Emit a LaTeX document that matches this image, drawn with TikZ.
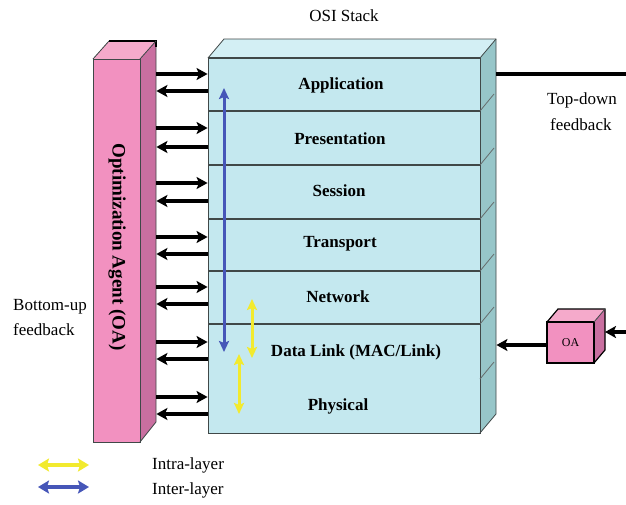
\documentclass[tikz,border=0pt]{standalone}
\usepackage{fontspec}
\setmainfont{Liberation Serif}
\usetikzlibrary{arrows.meta}
\definecolor{pinkF}{HTML}{F291C0}
\definecolor{pinkS}{HTML}{C96FA0}
\definecolor{pinkT}{HTML}{F5AACB}
\definecolor{cyanF}{HTML}{C4E8EF}
\definecolor{cyanT}{HTML}{D3EFF4}
\definecolor{cyanS}{HTML}{97C6C9}
\definecolor{edge}{HTML}{404848}
\definecolor{blueA}{HTML}{4656B8}
\definecolor{yellowA}{HTML}{F2EA2E}
\begin{document}
\begin{tikzpicture}[x=1pt,y=-1pt,
  lbl/.style={font=\fontsize{17}{20}\selectfont, inner sep=0pt},
  layerlbl/.style={font=\bfseries\fontsize{17}{20}\selectfont, inner sep=0pt},
  fb/.style={line width=3.4pt, -{Stealth[length=11pt,width=12pt,inset=2.5pt]}},
  inter/.style={line width=3pt, blueA, {Stealth[length=11pt,width=10pt,inset=2pt]}-{Stealth[length=11pt,width=10pt,inset=2pt]}},
  intra/.style={line width=3pt, yellowA, {Stealth[length=11pt,width=10pt,inset=2pt]}-{Stealth[length=11pt,width=10pt,inset=2pt]}},
  legarrow/.style={line width=4.5pt, {Stealth[length=11pt,width=13pt,inset=2pt]}-{Stealth[length=11pt,width=13pt,inset=2pt]}},
  sep/.style={line width=1.3pt, edge},
  notch/.style={line width=0.8pt, edge!80},
]
\useasboundingbox (0,0) rectangle (626,504);

% ---------- Optimization agent column ----------
\fill[pinkT] (93,59) -- (109,41) -- (156,41) -- (140,59) -- cycle;
\fill[pinkS] (140,59) -- (156,41) -- (156,422) -- (140,442) -- cycle;
\node[fill=pinkF, draw=edge, line width=0.8pt, minimum width=47pt, minimum height=383pt, inner sep=0pt] (agent) at (116.5,250.5) {};
\draw[edge, line width=0.8pt] (93,59) -- (109,41);
\draw[black, line width=1.8pt] (109,41) -- (156,41) -- (156,47);
\draw[edge, line width=0.8pt] (140,59) -- (156,41) (156,47) -- (156,422) -- (140,442);
\node[rotate=-90, font=\bfseries\fontsize{19}{22}\selectfont, inner sep=0pt] (agentlbl) at (117,247) {Optimization Agent (OA)};

% ---------- OSI stack ----------
\fill[cyanT] (208,58) -- (224,39) -- (496,39) -- (480,58) -- cycle;
\fill[cyanS] (480,58) -- (496,39) -- (496,414) -- (480,433) -- cycle;
\node[fill=cyanF, draw=edge, line width=0.9pt, minimum width=272pt, minimum height=375pt, inner sep=0pt] (stack) at (344,245.5) {};
\draw[edge, line width=0.8pt] (208,58) -- (224,39) -- (496,39) -- (496,414) -- (480,433);
\draw[edge, line width=0.8pt] (480,58) -- (496,39);
\draw[sep] (stack.north west) -- (stack.north east);
\foreach \yy in {111,165,219,271,324} {
  \draw[sep] (208,\yy) -- (480,\yy);
}
\foreach \yy in {111,165,219,271,324,379} {
  \draw[notch] (480,\yy) -- (494,\yy-17);
}
\path ([xshift=16pt]stack.east) coordinate (sside);
\path ([xshift=16pt]agent.east) coordinate (aside);

\node[lbl] (osi) at (344,16) {OSI Stack};

\node[layerlbl] (app)  at (341,85)  {Application};
\node[layerlbl] (pres) at (340,139) {Presentation};
\node[layerlbl] (sess) at (339,191) {Session};
\node[layerlbl] (trans) at (340,244) {Transport};
\node[layerlbl] (net)  at (338,297) {Network};
\node[layerlbl] (dl)   at (356,352) {Data Link (MAC/Link)};
\node[layerlbl] (phy)  at (338,406) {Physical};

% ---------- feedback arrows between agent and stack ----------
\foreach \ya/\yb in {74/91,128/147,183/201,237/254,287/304,342/359,397/414} {
  \draw[fb] (aside |- 0,\ya) -- (stack.west |- 0,\ya);
  \draw[fb] (stack.west |- 0,\yb) -- (aside |- 0,\yb);
}

% ---------- inter/intra layer arrows ----------
\coordinate (bt) at (224,88);
\coordinate (bb) at (224,352);
\draw[inter] (bt) -- (bb);
\coordinate (y1t) at (252,299);
\coordinate (y1b) at (252,358);
\draw[intra] (y1t) -- (y1b);
\coordinate (y2t) at (239,354);
\coordinate (y2b) at (239,414);
\draw[intra] (y2t) -- (y2b);

% ---------- top-down feedback ----------
\coordinate (tdend) at (626,74);
\draw[black, line width=3.4pt] (sside |- tdend) -- (tdend);
\node[lbl, anchor=west] (td1) at (547,100) {Top-down};
\node[lbl, anchor=west] (td2) at (550,125) {feedback};

% ---------- small OA cube ----------
\fill[pinkT] (547,322) -- (558,309) -- (605,309) -- (594,322) -- cycle;
\fill[pinkS] (594,322) -- (605,309) -- (605,350) -- (594,363) -- cycle;
\node[fill=pinkF, draw=black, line width=1.2pt, minimum width=47pt, minimum height=41pt, inner sep=0pt, font=\fontsize{12}{14}\selectfont] (oa) at (570.5,342.5) {OA};
\draw[black, line width=1.2pt] (547,322) -- (558,309) -- (605,309) -- (605,350) -- (594,363);
\draw[edge, line width=0.8pt] (594,322) -- (605,309);
\coordinate (oain) at (626,332);
\draw[fb] (oain) -- (605,332);
\draw[fb] (oa.west |- 0,345) -- (sside |- 0,345);

% ---------- bottom-up feedback ----------
\node[lbl, anchor=west] (bu1) at (13,307) {Bottom-up};
\node[lbl, anchor=west] (bu2) at (13,330) {feedback};

% ---------- legend ----------
\coordinate (ly1) at (38,465);
\coordinate (ly2) at (89,465);
\coordinate (lb1) at (38,487);
\coordinate (lb2) at (89,487);
\draw[legarrow, yellowA] (ly1) -- (ly2);
\draw[legarrow, blueA] (lb1) -- (lb2);
\node[lbl, anchor=west] (intraT) at (152,465) {Intra-layer};
\node[lbl, anchor=west] (interT) at (152,490) {Inter-layer};
\end{tikzpicture}
\end{document}
